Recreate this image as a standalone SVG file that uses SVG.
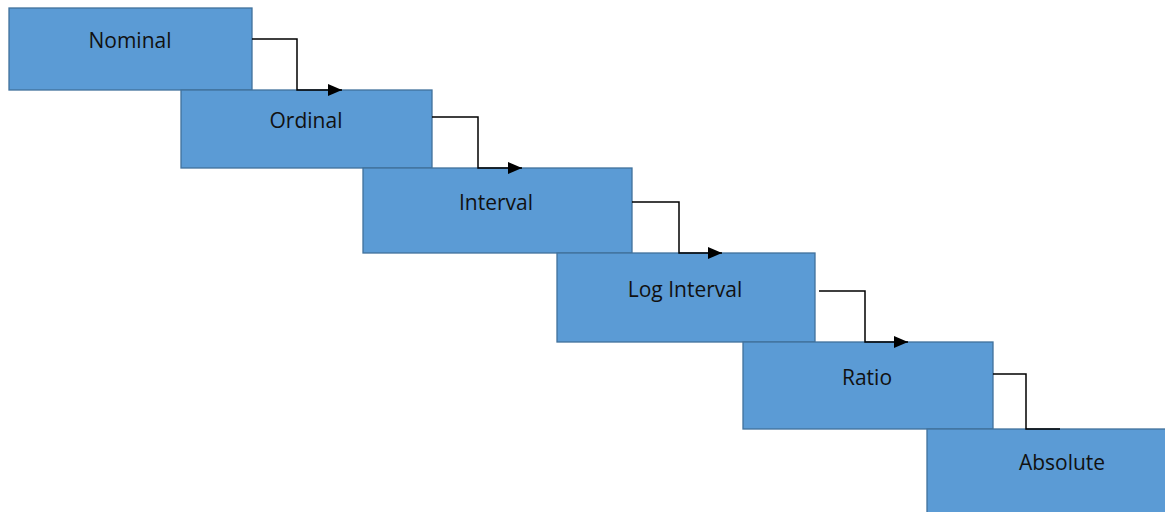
<svg xmlns="http://www.w3.org/2000/svg" width="1165" height="512" viewBox="0 0 1165 512">
<style>
.box{fill:#5B9BD5;stroke:#41719C;stroke-width:1.3}
.lbl{font-family:"Open Sans","Liberation Sans",sans-serif;font-size:21px;fill:#111;text-anchor:middle}
.con{fill:none;stroke:#000;stroke-width:1.5}
</style>
<defs>
<marker id="arr" markerWidth="14" markerHeight="12" refX="14" refY="6" orient="auto" markerUnits="userSpaceOnUse">
<path d="M0,0 L14,6 L0,12 Z" fill="#000"/>
</marker>
</defs>
<rect width="1165" height="512" fill="#fff"/>
<g id="n-nominal"><rect class="box" x="9" y="8" width="243" height="82"/><text class="lbl" x="130" y="48">Nominal</text></g>
<g id="n-ordinal"><rect class="box" x="181" y="90" width="251" height="78"/><text class="lbl" x="306" y="128">Ordinal</text></g>
<g id="n-interval"><rect class="box" x="363" y="168" width="269" height="85"/><text class="lbl" x="496" y="210">Interval</text></g>
<g id="n-loginterval"><rect class="box" x="557" y="253" width="258" height="89"/><text class="lbl" x="685" y="297">Log Interval</text></g>
<g id="n-ratio"><rect class="box" x="743" y="342" width="250" height="87"/><text class="lbl" x="867" y="385">Ratio</text></g>
<g id="n-absolute"><rect class="box" x="927" y="429" width="270" height="100"/><text class="lbl" x="1062" y="470">Absolute</text></g>
<g id="connectors">
<polyline class="con" points="252,39 297,39 297,90 342,90" marker-end="url(#arr)"/>
<polyline class="con" points="432,117 478,117 478,168 522,168" marker-end="url(#arr)"/>
<polyline class="con" points="632,202 679,202 679,253 722,253" marker-end="url(#arr)"/>
<polyline class="con" points="819,291 865,291 865,342 908,342" marker-end="url(#arr)"/>
<polyline class="con" points="993,374 1026,374 1026,429 1060,429"/>
</g>
</svg>
